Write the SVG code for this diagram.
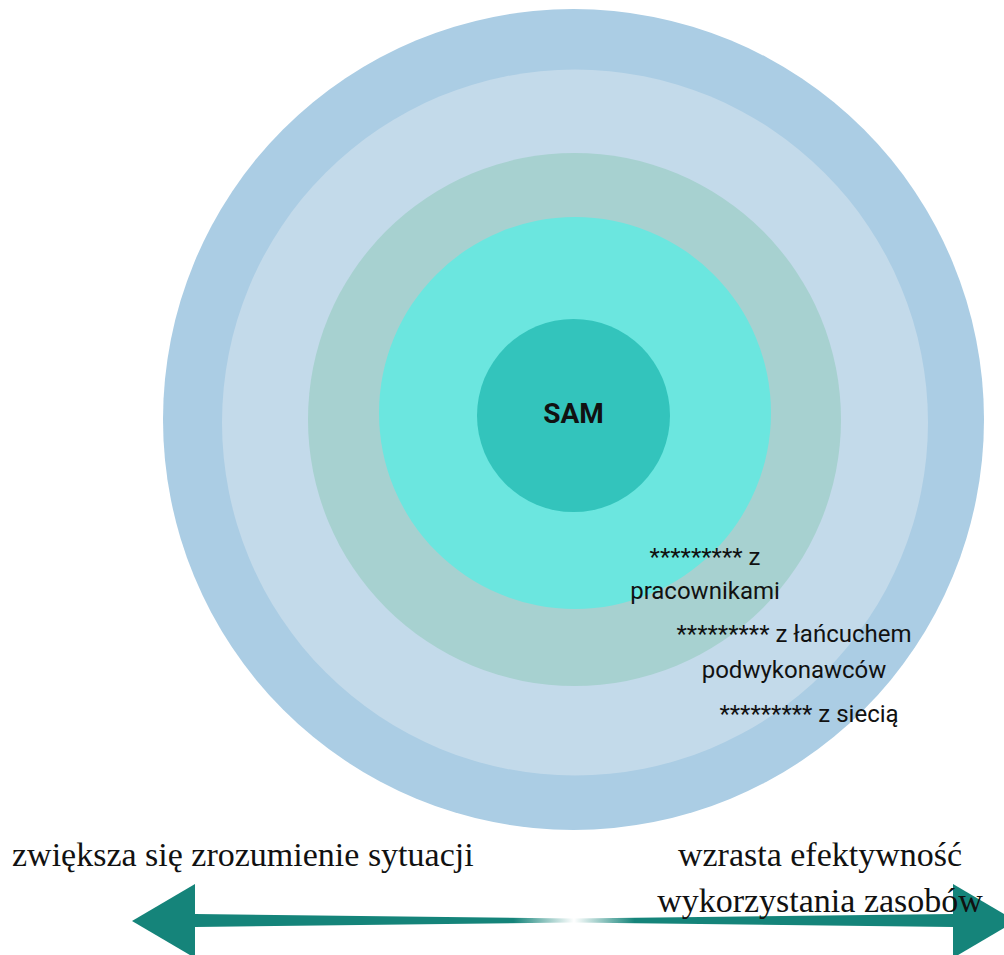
<svg xmlns="http://www.w3.org/2000/svg" width="1004" height="955" viewBox="0 0 1004 955">
<defs>
<style>
.lbl{font-family:Roboto,"Liberation Sans",sans-serif;font-size:24px;fill:#111;text-anchor:middle}
.sam{font-family:Roboto,"Liberation Sans",sans-serif;font-size:28px;font-weight:bold;fill:#111;text-anchor:middle}
.cap{font-family:"Liberation Serif","Times New Roman",serif;font-size:34px;fill:#111}
.arr{fill:#15847A}
</style>
<linearGradient id="fade" x1="195" y1="0" x2="953" y2="0" gradientUnits="userSpaceOnUse">
<stop offset="0" stop-color="#15847A"/>
<stop offset="0.42" stop-color="#15847A"/>
<stop offset="0.5" stop-color="#ffffff"/>
<stop offset="0.58" stop-color="#15847A"/>
<stop offset="1" stop-color="#15847A"/>
</linearGradient>
</defs>
<rect width="1004" height="955" fill="#ffffff"/>
<g id="ring1"><circle cx="573.5" cy="419.5" r="410.5" fill="#ABCDE4"/></g>
<g id="ring2"><circle cx="575" cy="422.5" r="353" fill="#C3DAEA"/></g>
<g id="ring3"><circle cx="574.5" cy="419.5" r="266.5" fill="#A7D1D0"/></g>
<g id="ring4"><circle cx="575" cy="413" r="196" fill="#6BE6DF"/></g>
<g id="sam"><circle cx="573.5" cy="415.5" r="96.5" fill="#33C4BC"/>
<text class="sam" x="573.5" y="423">SAM</text></g>
<g id="label-pracownikami"><text class="lbl" x="705" y="565">********* z</text><text class="lbl" x="705" y="599">pracownikami</text></g>
<g id="label-lancuch"><text class="lbl" x="794" y="642">********* z łańcuchem</text><text class="lbl" x="794" y="678">podwykonawców</text></g>
<g id="label-siec"><text class="lbl" x="809" y="722">********* z siecią</text></g>
<g id="connectors">
<polygon class="arr" points="132,921 195,884 195,958"/>
<polygon points="195,914 573,918.5 953,914 953,927 573,922.5 195,927" fill="url(#fade)"/>
<polygon class="arr" points="953,884 1016,921 953,958"/>
</g>
<g id="captions">
<text class="cap" x="12" y="866">zwiększa się zrozumienie sytuacji</text>
<text class="cap" x="820" y="866" text-anchor="middle">wzrasta efektywność</text>
<text class="cap" x="820" y="912" text-anchor="middle">wykorzystania zasobów</text>
</g>
</svg>
